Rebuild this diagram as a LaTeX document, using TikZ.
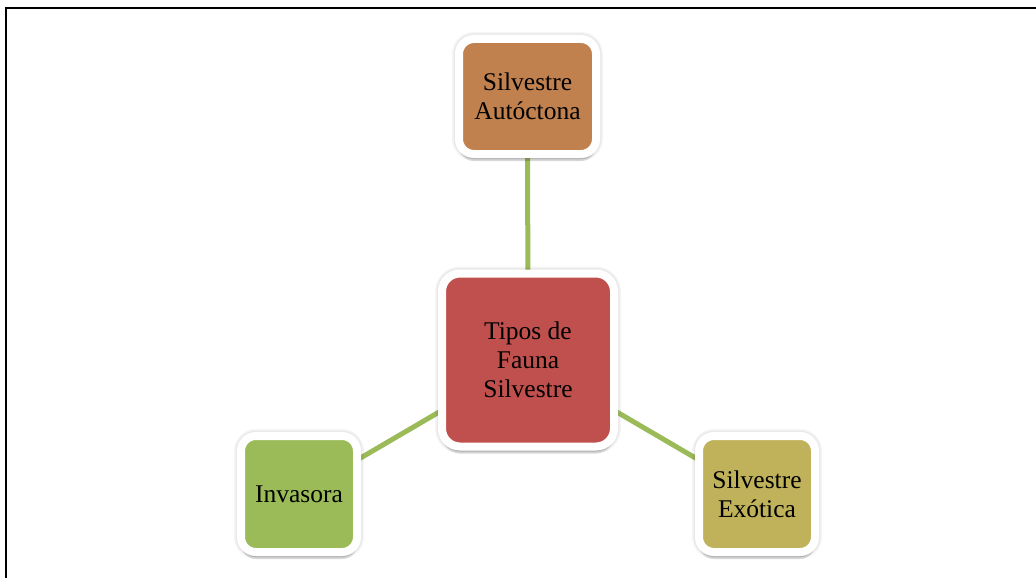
\documentclass[tikz,border=0pt]{standalone}
\usepackage{fontspec}
\setmainfont{Liberation Serif}
\usetikzlibrary{shadows,backgrounds}
\definecolor{cRed}{HTML}{C0504D}
\definecolor{cBrown}{HTML}{C0814F}
\definecolor{cGreen}{HTML}{9BBB59}
\definecolor{cOlive}{HTML}{BFB25A}
\tikzset{
  box/.style={draw=white, line width=8pt, rounded corners=#1, inner sep=0pt,
    align=center, text=black, font=\fontsize{25.5}{29}\selectfont,
    drop shadow={shadow xshift=0pt, shadow yshift=-7pt, opacity=0.12, fill=black},
    drop shadow={shadow xshift=0pt, shadow yshift=-5pt, opacity=0.15, fill=black},
    preaction={draw=black, draw opacity=0.04, line width=14pt},
    preaction={draw=black, draw opacity=0.05, line width=11pt}},
  link/.style={draw=cGreen, line width=5pt}
}
\begin{document}
\begin{tikzpicture}[x=1pt,y=-1pt]
\useasboundingbox (0,0) rectangle (1036,578);
\draw[line width=2pt] (6,578) -- (6,8) -- (1036,8);
\node[box=18pt, fill=cRed, minimum width=172pt, minimum height=173pt] (c) at (528,360) {Tipos de\\Fauna\\Silvestre};
\node[box=15pt, fill=cBrown, minimum width=137pt, minimum height=115pt] (t) at (527.5,96.5) {Silvestre\\Autóctona};
\node[box=15pt, fill=cGreen, minimum width=116pt, minimum height=116pt] (l) at (299,494) {Invasora};
\node[box=15pt, fill=cOlive, minimum width=116pt, minimum height=116pt] (r) at (757,494) {Silvestre\\Exótica};
\begin{pgfonlayer}{background}
\draw[link] (c.center) -- (t.center);
\draw[link] (c.center) -- (l.center);
\draw[link] (c.center) -- (r.center);
\end{pgfonlayer}
\end{tikzpicture}
\end{document}
